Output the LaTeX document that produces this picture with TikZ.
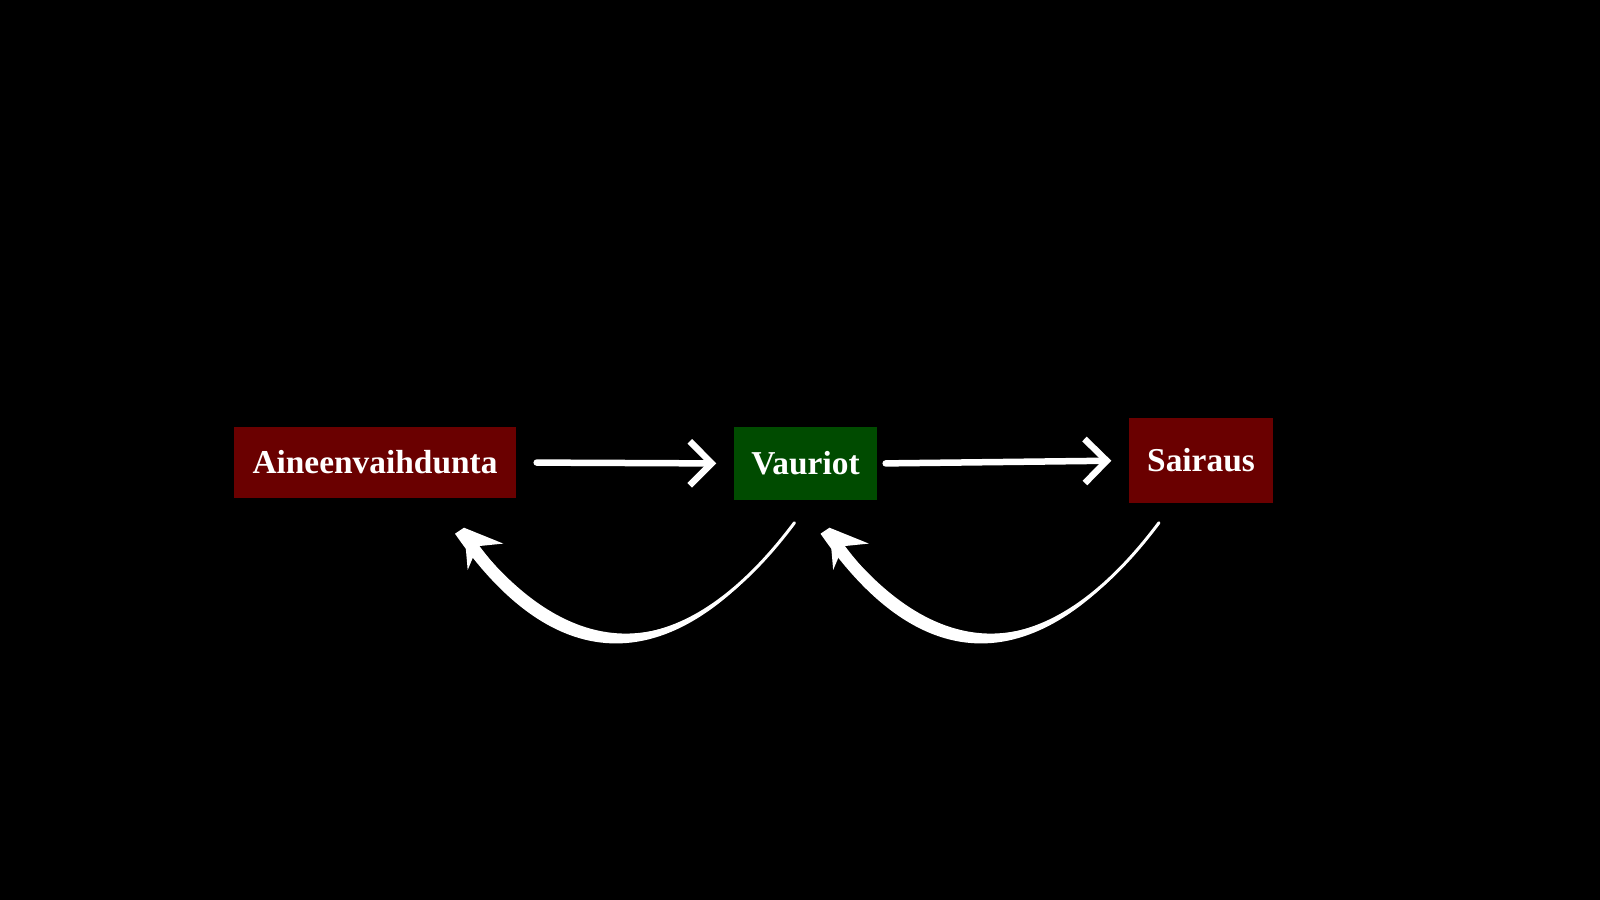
\documentclass[tikz,border=0pt]{standalone}
\usepackage{fontspec}
\setmainfont{Liberation Serif}
\usetikzlibrary{arrows.meta,positioning}
\definecolor{BoxRed}{HTML}{6A0000}
\definecolor{BoxGreen}{HTML}{004B00}
\tikzset{box/.style={inner sep=0pt,text=white,font=\fontsize{9.5}{11}\selectfont\bfseries},
 flow/.style={draw=white,line width=0.65mm,line cap=round,-{Straight Barb[length=2.2mm,width=4.4mm]}},
 back/.style={draw=white,line width=0.3mm,line cap=round,-{Stealth[length=3.6mm,width=4.4mm,inset=1.3mm]}},
 brush/.style={fill=white}}
\begin{document}
\begin{tikzpicture}[x=0.1mm,y=-0.1mm]
\fill[black] (0,0) rectangle (1600,900);
\useasboundingbox (0,0) rectangle (1600,900);
% Boxes sit at pixel positions of the layout.
\node[box,fill=BoxRed,minimum width=28.2mm,minimum height=7.1mm] (aine) at (375,462.5) {Aineenvaihdunta};
\node[box,fill=BoxGreen,minimum width=14.3mm,minimum height=7.3mm] (vauriot) at (805.5,463.5) {Vauriot};
\node[box,fill=BoxRed,minimum width=14.4mm,minimum height=8.5mm] (sairaus) at (1201,460.5) {Sairaus};
\draw[flow,shorten <=2mm,shorten >=1.7mm] (aine.east) -- (vauriot.west);
\draw[flow,shorten <=0.8mm,shorten >=1.7mm] (vauriot.east) -- (sairaus.west);
% Feedback loops run underneath the row; the fill thickens the stroke towards the tip.
\coordinate (loopa) at ([shift={(-11,22)}]vauriot.south);
\coordinate (loopb) at ([shift={(89,29)}]aine.south);
\coordinate (loopc) at ([shift={(-42,19)}]sairaus.south);
\coordinate (loopd) at ([shift={(24,27)}]vauriot.south);
\fill[brush] (loopa) .. controls +(-110,147) and +(105,142) .. (loopb)
 -- ([shift={(-9,6)}]loopb) .. controls +(105,152) and +(-114,155) .. (loopa);
\fill[brush] (loopc) .. controls +(-110,147) and +(105,142) .. (loopd)
 -- ([shift={(-9,6)}]loopd) .. controls +(105,152) and +(-114,155) .. (loopc);
\draw[back] (loopa) .. controls +(-110,147) and +(105,142) .. (loopb);
\draw[back] (loopc) .. controls +(-110,147) and +(105,142) .. (loopd);
\end{tikzpicture}
\end{document}
